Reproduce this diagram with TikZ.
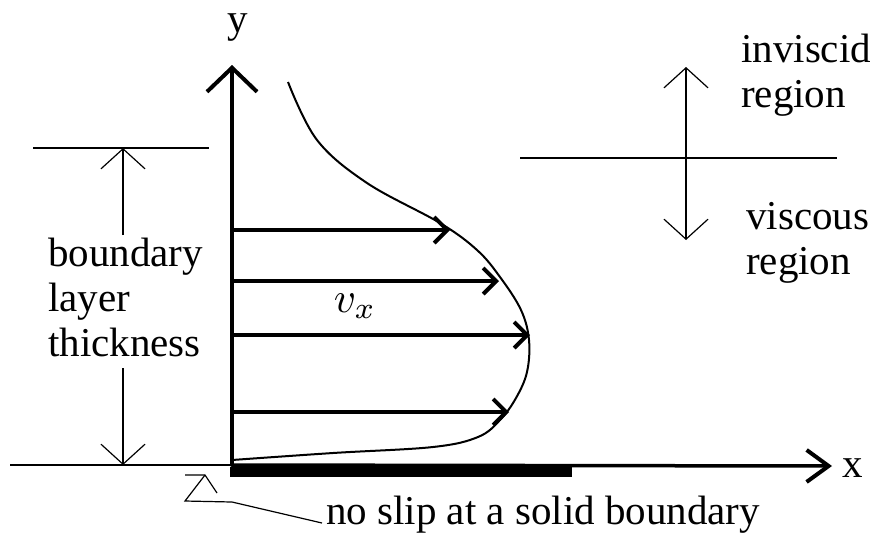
\documentclass[tikz,border=0pt]{standalone}
\usepackage{fontspec}
\setmainfont{Liberation Serif}
\usetikzlibrary{arrows.meta}
\begin{document}
\begin{tikzpicture}[x=1pt,y=-1pt,
  lbl/.style={font=\fontsize{41}{45}\selectfont, inner sep=0pt, align=left},
  axisline/.style={line width=4pt, line cap=round, -{Straight Barb[length=24pt,width=50pt,line width=4pt]}},
  xaxisline/.style={line width=3.5pt, -{Straight Barb[length=22pt,width=32pt,line width=4pt]}},
  velarrow/.style={line width=4pt, -{Straight Barb[length=13pt,width=26pt,line width=4pt]}},
  thinarrow/.style={line width=1.2pt, -{Straight Barb[length=20pt,width=44pt,line width=1.2pt]}},
  marker/.style={line width=2.5pt},
  thinline/.style={line width=1.2pt},
  profile/.style={line width=2pt}]
\useasboundingbox (0,0) rectangle (877,539);

% key coordinates
\coordinate (O) at (232,465);
\coordinate (ytip) at (232,65);
\coordinate (xtip) at (832,466);
\coordinate (xleft) at (10,465);

% solid boundary
\fill (230,467) rectangle (572,477);

% axes
\draw[marker] (xleft) -- (O);
\draw[xaxisline] (O) -- (xtip);
\draw[axisline] (O) -- (ytip);
\node[lbl] (ylab) at (238,28) {y};
\node[lbl] (xlab) at (853,468) {x};

% velocity profile
\draw[profile] plot[smooth, tension=0.6] coordinates {
 (288,82) (317,140) (367,183) (440,223) (477,250) (500,277) (521,310)
 (529,340) (527,372) (516,398) (500,420) (478,437) (433,447) (333,453) (232,460)};

% velocity arrows
\coordinate (a1s) at (232,230); \coordinate (a1e) at (450,230);
\coordinate (a2s) at (232,281); \coordinate (a2e) at (499,281);
\coordinate (a3s) at (232,335); \coordinate (a3e) at (530,335);
\coordinate (a4s) at (232,412); \coordinate (a4e) at (509,412);
\draw[velarrow] (a1s) -- (a1e);
\draw[velarrow] (a2s) -- (a2e);
\draw[velarrow] (a3s) -- (a3e);
\draw[velarrow] (a4s) -- (a4e);
\node[inner sep=0pt] (vx) at (355,306) {\scalebox{4.3}{$v_x$}};

% boundary layer thickness
\coordinate (bltl) at (33,148); \coordinate (bltr) at (209,148);
\draw[marker] (bltl) -- (bltr);
\coordinate (dimtop) at (123,148);
\coordinate (dimbot) at (123,465);
\node[lbl, anchor=west] (blt) at (48,297) {boundary\\layer\\thickness};
\coordinate (dimu) at (123,235);
\coordinate (diml) at (123,368);
\draw[thinarrow] (dimu) -- (dimtop);
\draw[thinarrow] (diml) -- (dimbot);

% inviscid / viscous
\coordinate (ivl) at (520,158); \coordinate (ivr) at (837,158);
\draw[marker] (ivl) -- (ivr);
\coordinate (ivm) at (686,158);
\coordinate (ivup) at (686,67);
\coordinate (ivdn) at (686,240);
\draw[thinarrow] (ivm) -- (ivup);
\draw[thinarrow] (ivm) -- (ivdn);
\node[lbl, anchor=west] (inv) at (741,75) {inviscid\\region};
\node[lbl, anchor=west] (vis) at (746,243) {viscous\\region};

% no slip pointer
\node[lbl, anchor=west] (ns) at (326,515) {no slip at a solid boundary};
\coordinate (p1) at (232,502);
\coordinate (p2) at (185,501);
\coordinate (ptip) at (205,475);
\coordinate (parmA) at (185,475);
\coordinate (parmB) at (217,493);
\draw[thinline] (ns.west) ++(-4,8) -- (p1) -- (p2) -- (ptip);
\draw[thinline] (parmA) -- (ptip) -- (parmB);
\end{tikzpicture}
\end{document}
